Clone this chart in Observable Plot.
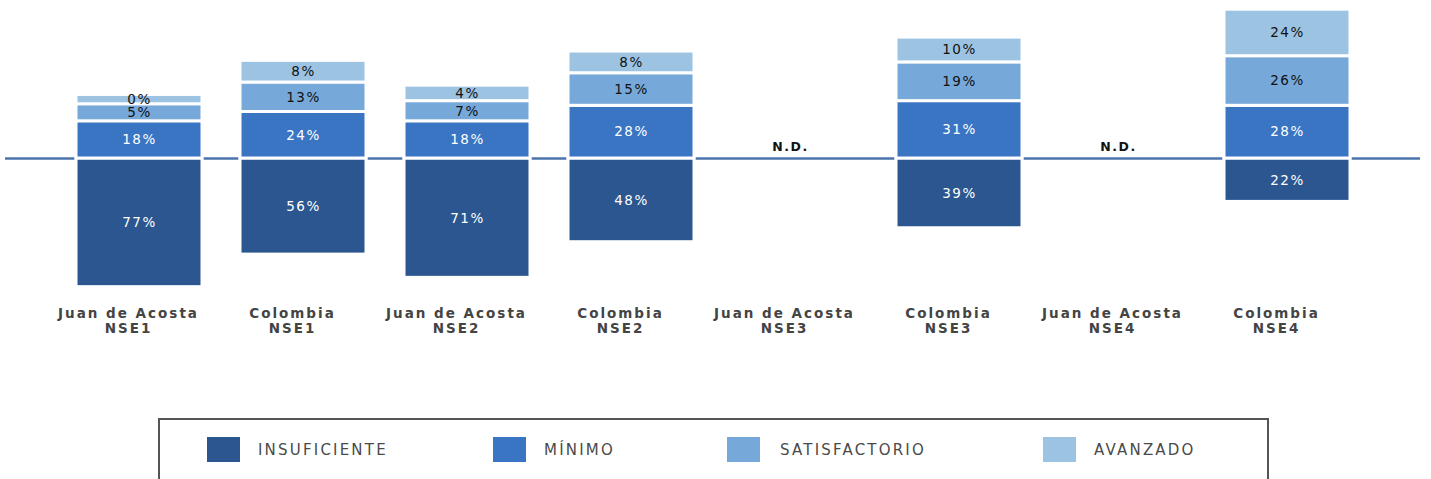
<!DOCTYPE html>
<html><head><meta charset="utf-8">
<script src="https://cdn.jsdelivr.net/npm/d3@7"></script>
<script src="https://cdn.jsdelivr.net/npm/@observablehq/plot@0.6"></script>
<style>
body{margin:0;background:#fff;font-family:"DejaVu Sans",sans-serif;}
#chart{position:relative;width:1431px;height:479px;overflow:hidden;}
#chart svg text{letter-spacing:1.5px;}
#chart svg g[aria-label="x-axis tick label"] text{letter-spacing:2px;}
.legend{position:absolute;left:158px;top:418px;width:1111px;height:90px;border:2px solid #555;box-sizing:border-box;}
.sw{position:absolute;top:17px;width:33px;height:25px;}
.lt{position:absolute;top:18px;line-height:25px;font-size:15px;letter-spacing:2.2px;color:#4a4a4a;}
</style></head><body><div id="chart"></div>
<script>
const categories = ["Juan de Acosta\nNSE1","Colombia\nNSE1","Juan de Acosta\nNSE2","Colombia\nNSE2","Juan de Acosta\nNSE3","Colombia\nNSE3","Juan de Acosta\nNSE4","Colombia\nNSE4"];
const series = ["INSUFICIENTE","MÍNIMO","SATISFACTORIO","AVANZADO"];
const insuficiente = [77,56,71,48,null,39,null,22];
const minimo = [18,24,18,28,null,31,null,28];
const satisfactorio = [5,13,7,15,null,19,null,26];
const avanzado = [0,8,4,8,null,10,null,24];
const colors = ["#2B568F","#3A75C4","#76A9DA","#9DC3E3"];
const labelColors = ["#ffffff","#ffffff","#111111","#111111"];
const segPad = 6; // visual padding per segment, as in the reference rendering

const rows = [];
categories.forEach((c,i)=>{
  if (insuficiente[i]==null) return;
  rows.push({cat:c, k:0, v:insuficiente[i], y1:0, y2:-(insuficiente[i]+segPad)});
  let acc = 0;
  [[1,minimo],[2,satisfactorio],[3,avanzado]].forEach(([k,arr])=>{
    const v = arr[i];
    rows.push({cat:c, k, v, y1:acc, y2:acc+v+segPad});
    acc += v+segPad;
  });
});
const nd = categories.filter((c,i)=>insuficiente[i]==null);

const plot = Plot.plot({
  width:1431, height:340,
  marginLeft:5, marginRight:11, marginTop:0, marginBottom:40,
  style:{fontFamily:"'DejaVu Sans', sans-serif", background:"transparent"},
  x:{domain:categories, paddingInner:0.232, paddingOuter:0.43, axis:null, label:null},
  y:{domain:[-142/1.55, 158/1.55], axis:null},
  marks:[
    Plot.ruleY([0],{stroke:"#4A74AB", strokeWidth:2.5}),
    Plot.rectY(rows,{x:"cat", y1:"y1", y2:"y2", fill:d=>colors[d.k], stroke:"white", strokeWidth:3}),
    Plot.text(rows,{x:"cat", y:d=>(d.y1+d.y2)/2, text:d=>d.v+"%", fill:d=>labelColors[d.k], fontSize:13.5}),
    Plot.text(nd,{x:d=>d, y:()=>0, dy:-12, dx:-5, text:()=>"N.D.", fontWeight:"bold", fontSize:12.5, fill:"#111"}),
    Plot.axisX({tickSize:0, tickPadding:8, dx:-11, fontSize:13.5, fontWeight:"bold", color:"#444", lineHeight:1.04, label:null})
  ]
});
const chart = document.getElementById("chart");
chart.appendChild(plot);

const legend = document.createElement("div");
legend.className = "legend";
const swX = [47,333,567,883], txX = [98,384,620,934];
series.forEach((s,i)=>{
  const sw = document.createElement("div");
  sw.className="sw"; sw.style.left=swX[i]+"px"; sw.style.background=colors[i];
  const t = document.createElement("div");
  t.className="lt"; t.style.left=txX[i]+"px"; t.textContent=s;
  legend.appendChild(sw); legend.appendChild(t);
});
chart.appendChild(legend);
</script></body></html>
